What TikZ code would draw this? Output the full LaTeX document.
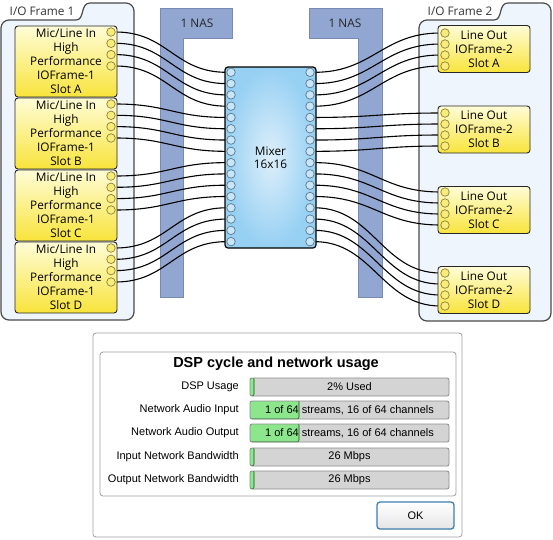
\documentclass[tikz,border=0pt]{standalone}
\usepackage{fontspec}
\setmainfont{Open Sans}
\newfontfamily\dlgfont{Liberation Sans}
\pgfdeclarelayer{bg}
\pgfdeclarelayer{wires}
\pgfsetlayers{bg,wires,main}
\definecolor{framebg}{RGB}{238,245,252}
\definecolor{frameln}{RGB}{74,74,74}
\definecolor{nasfill}{RGB}{145,167,210}
\definecolor{nasline}{RGB}{120,138,178}
\definecolor{ytop}{RGB}{255,252,215}
\definecolor{ymid}{RGB}{255,240,110}
\definecolor{ybot}{RGB}{248,228,60}
\definecolor{portln}{RGB}{140,128,60}
\definecolor{portfill}{RGB}{250,236,120}
\definecolor{mportln}{RGB}{95,120,140}
\definecolor{minner}{RGB}{222,239,251}
\definecolor{mouter}{RGB}{150,208,243}
\definecolor{barbg}{RGB}{212,212,212}
\definecolor{barline}{RGB}{140,140,140}
\definecolor{barfg}{RGB}{140,230,140}
\definecolor{okline}{RGB}{60,127,177}
\definecolor{dlgline}{RGB}{160,160,160}
\begin{document}
\begin{tikzpicture}[x=1pt,y=-1pt,
  frame/.style={draw=frameln, fill=framebg, line width=1.2pt, line join=round},
  nas/.style={draw=nasline, fill=nasfill, line width=0.8pt},
  ybox/.style={draw=black!85, line width=0.9pt, rounded corners=3pt, shading=axis,
    top color=ytop, middle color=ymid, bottom color=ybot, inner sep=0pt, align=center,
    font=\fontsize{11.8}{13.9}\selectfont},
  lbox/.style={ybox, minimum width=102pt, minimum height=71pt},
  rbox/.style={ybox, minimum width=92pt, minimum height=47pt},
  port/.style={circle, draw=portln, fill=portfill, line width=0.7pt, minimum size=8.5pt, inner sep=0pt},
  mport/.style={circle, draw=mportln, fill=minner!70!mouter, line width=0.7pt, minimum size=8.5pt, inner sep=0pt},
  wire/.style={draw=black, line width=1.1pt},
  mixer/.style={draw=black, line width=1.2pt, rounded corners=3pt, inner color=minner, outer color=mouter,
    minimum width=91pt, minimum height=181pt, align=center, font=\fontsize{11.8}{13}\selectfont},
  lbl/.style={font=\fontsize{11.8}{13}\selectfont, text=black!85, inner sep=0pt},
  dlg/.style={font=\dlgfont\fontsize{11}{13}\selectfont, inner sep=0pt},
  bar/.style={draw=barline, line width=0.8pt, fill=barbg, rounded corners=2pt, minimum width=199pt,
    minimum height=18pt, inner sep=0pt, font=\dlgfont\fontsize{11}{13}\selectfont,
    path picture={\filldraw[fill=barfg, draw=green!35!black, line width=0.6pt]
      ([xshift=-1pt,yshift=1pt]path picture bounding box.north west) rectangle
      ([xshift=#1]path picture bounding box.south west);}}
]
\useasboundingbox (0,0) rectangle (553,539);

% frames
\begin{pgfonlayer}{bg}
\path[frame] (50,20) [sharp corners] -- (76,20) .. controls (85,20) and (80,3) .. (90,3)
  [rounded corners=8pt] -- (134,3) -- (134,320) -- (1,320) -- (1,20) -- (50,20);
\path[frame] (460,20) [sharp corners] -- (494,20) .. controls (503,20) and (498,3) .. (508,3)
  [rounded corners=8pt] -- (551,3) -- (551,321) -- (419,321) -- (419,20) -- (460,20);
\path[nas] (160,8) -- (232,8) -- (232,38) -- (183,38) -- (183,297) -- (160,297) -- cycle;
\path[nas] (309,8) -- (382,8) -- (382,297) -- (358,297) -- (358,38) -- (309,38) -- cycle;
\end{pgfonlayer}

\node[lbl, text=black!80] (f1) at (42,11) {I/O Frame 1};
\node[lbl, text=black!80] (f2) at (460,11) {I/O Frame 2};
\node[lbl] (nas1) at (197,23) {1 NAS};
\node[lbl] (nas2) at (345,23) {1 NAS};

% left slots
\node[lbox] (sa) at (66,61.5) {Mic/Line In\\High\\Performance\\IOFrame-1\\Slot A};
\node[lbox] (sb) at (66,133.5) {Mic/Line In\\High\\Performance\\IOFrame-1\\Slot B};
\node[lbox] (sc) at (66,205.5) {Mic/Line In\\High\\Performance\\IOFrame-1\\Slot C};
\node[lbox] (sd) at (66,277.5) {Mic/Line In\\High\\Performance\\IOFrame-1\\Slot D};

% right slots
\node[rbox] (ra) at (484,49) {Line Out\\IOFrame-2\\Slot A};
\node[rbox] (rb) at (484,129.5) {Line Out\\IOFrame-2\\Slot B};
\node[rbox] (rc) at (484,210) {Line Out\\IOFrame-2\\Slot C};
\node[rbox] (rd) at (484,290) {Line Out\\IOFrame-2\\Slot D};

% mixer
\node[mixer] (mix) at (270.5,157.5) {Mixer\\16x16};

% ports
\foreach \yy [count=\i] in {32,43.3,54.6,66,104,115.3,126.6,138,176,187.3,198.6,210,248,259.3,270.6,282}
  \node[port] (lp\i) at (111,\yy) {};
\foreach \yy [count=\i] in {33,44,55,66,113,124,135,146,192,203,214,225,273,284,295,306}
  \node[port] (rp\i) at (445,\yy) {};
\foreach \i in {1,...,16} {
  \node[mport] (ml\i) at (231,{72.3+(\i-1)*11.29}) {};
  \node[mport] (mr\i) at (310,{72.3+(\i-1)*11.29}) {};
}

% wires
\begin{pgfonlayer}{wires}
\foreach \i in {1,...,16} {
  \draw[wire] (lp\i.east) .. controls +(52,0) and +(-52,0) .. (ml\i.west);
  \draw[wire] (mr\i.east) .. controls +(58,0) and +(-58,0) .. (rp\i.west);
}
\end{pgfonlayer}

% dialog
\node[draw=dlgline, fill=white, rounded corners=3pt, line width=0.8pt, minimum width=369pt, minimum height=204pt] (dlgbox) at (277.5,435) {};
\node[draw=dlgline, rounded corners=3pt, line width=0.8pt, minimum width=356pt, minimum height=144pt] (grp) at (278,424) {};
\node[dlg, font=\dlgfont\bfseries\fontsize{14.5}{16}\selectfont] (title) at (276,364) {DSP cycle and network usage};

\node[dlg, anchor=east] (l1) at (239,387) {DSP Usage};
\node[dlg, anchor=east] (l2) at (239,410) {Network Audio Input};
\node[dlg, anchor=east] (l3) at (239,433) {Network Audio Output};
\node[dlg, anchor=east] (l4) at (239,457) {Input Network Bandwidth};
\node[dlg, anchor=east] (l5) at (239,480) {Output Network Bandwidth};

\node[bar=4pt] (b1) at (349.5,387) {2\% Used};
\node[bar=49pt] (b2) at (349.5,410) {1 of 64 streams, 16 of 64 channels};
\node[bar=49pt] (b3) at (349.5,433) {1 of 64 streams, 16 of 64 channels};
\node[bar=4pt] (b4) at (349.5,457) {26 Mbps};
\node[bar=4pt] (b5) at (349.5,480) {26 Mbps};

\node[draw=okline, line width=1.3pt, rounded corners=3pt, top color=white, bottom color=black!10,
  minimum width=77pt, minimum height=27pt, dlg] (ok) at (415.5,515.5) {OK};
\end{tikzpicture}
\end{document}
